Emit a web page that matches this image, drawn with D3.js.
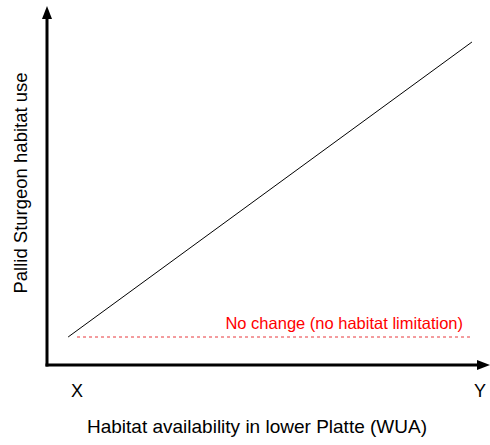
<!DOCTYPE html>
<html><head><meta charset="utf-8">
<script src="https://cdn.jsdelivr.net/npm/d3@7"></script>
<style>body{margin:0;background:#fff}svg{display:block}text{font-family:"Liberation Sans",Arial,sans-serif}</style>
</head><body>
<script>
const tickLabels = ["X", "Y"];
const tickValues = [0, 1];
const trendX = [-0.022, 0.98];
const trendY = [0, 1];
const noChangeX = [0, 0.976];
const noChangeY = [0, 0];
const noChangeLabel = "No change (no habitat limitation)";
const xTitle = "Habitat availability in lower Platte (WUA)";
const yTitle = "Pallid Sturgeon habitat use";

const W = 490, H = 445;
const svg = d3.select("body").append("svg").attr("width", W).attr("height", H);
const x = d3.scaleLinear().domain([0, 1]).range([77, 480]);
const y = d3.scaleLinear().domain([0, 1]).range([337, 42]);
const axisX = 47, axisY = 365;

// axes
svg.append("line").attr("x1", axisX).attr("y1", axisY + 1.5).attr("x2", axisX).attr("y2", 16)
  .attr("stroke", "#000").attr("stroke-width", 3);
svg.append("path").attr("d", `M${axisX},6 L${axisX-5},19 L${axisX+5},19 Z`).attr("fill", "#000");
svg.append("line").attr("x1", axisX - 1.5).attr("y1", axisY).attr("x2", 480).attr("y2", axisY)
  .attr("stroke", "#000").attr("stroke-width", 3);
svg.append("path").attr("d", `M490,${axisY} L477,${axisY-5} L477,${axisY+5} Z`).attr("fill", "#000");

// tick labels
svg.selectAll("text.tick").data(tickValues).enter().append("text")
  .attr("x", d => x(d)).attr("y", 397).attr("text-anchor", "middle")
  .attr("font-size", 18).text((d, i) => tickLabels[i]);

// trend line
const line = d3.line().x(d => x(d[0])).y(d => y(d[1]));
svg.append("path").datum(d3.zip(trendX, trendY)).attr("d", line)
  .attr("fill", "none").attr("stroke", "#000").attr("stroke-width", 1);

// no change dashed
svg.append("path").datum(d3.zip(noChangeX, noChangeY)).attr("d", line)
  .attr("fill", "none").attr("stroke", "#e8393c").attr("stroke-width", 1).attr("stroke-dasharray", "3,3");
svg.append("text").attr("x", 463).attr("y", 329).attr("text-anchor", "end")
  .attr("font-size", 16.5).attr("fill", "#ff0000").text(noChangeLabel);

// titles
svg.append("text").attr("x", 257).attr("y", 433).attr("text-anchor", "middle")
  .attr("font-size", 19).text(xTitle);
svg.append("text").attr("transform", "translate(27,183) rotate(-90)").attr("text-anchor", "middle")
  .attr("font-size", 18.5).text(yTitle);
</script>
</body></html>
